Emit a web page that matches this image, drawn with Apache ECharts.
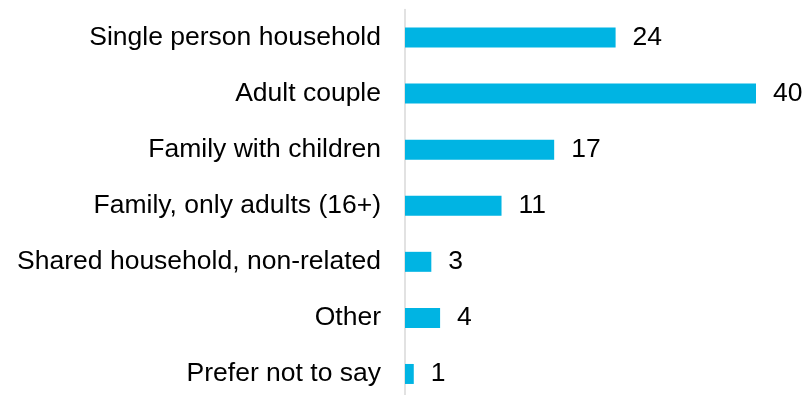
<!DOCTYPE html>
<html>
<head>
<meta charset="utf-8">
<script src="https://cdn.jsdelivr.net/npm/echarts@6/dist/echarts.min.js"></script>
<style>
  html, body { margin: 0; padding: 0; background: #fff; overflow: hidden; }
  /* the plot runs a few pixels past the bottom edge, so the canvas is taller than the window */
  #chart { width: 806px; height: 402px; }
</style>
</head>
<body>
<div id="chart"></div>
<script>
// Household types and their counts
const categories = [
  'Single person household',
  'Adult couple',
  'Family with children',
  'Family, only adults (16+)',
  'Shared household, non-related',
  'Other',
  'Prefer not to say'
];
const values = [24, 40, 17, 11, 3, 4, 1];

const chart = echarts.init(document.getElementById('chart'), null, { renderer: 'canvas' });

chart.setOption({
  animation: false,
  grid: { left: 405, right: 50, top: 9.5, bottom: 0, containLabel: false },
  xAxis: {
    type: 'value',
    min: 0,
    max: 40,
    show: false
  },
  yAxis: {
    type: 'category',
    data: categories,
    inverse: true,
    axisLine: { show: true, lineStyle: { color: '#d9d9d9', width: 1.5 } },
    axisTick: { show: false },
    axisLabel: {
      margin: 24,
      color: '#000',
      fontFamily: 'Liberation Sans, Arial, sans-serif',
      fontSize: 26.5
    }
  },
  series: [{
    type: 'bar',
    data: values,
    barWidth: 20,
    itemStyle: { color: '#00B4E3' },
    label: {
      show: true,
      position: 'right',
      distance: 17,
      color: '#000',
      fontFamily: 'Liberation Sans, Arial, sans-serif',
      fontSize: 26.5
    }
  }]
});
</script>
</body>
</html>
